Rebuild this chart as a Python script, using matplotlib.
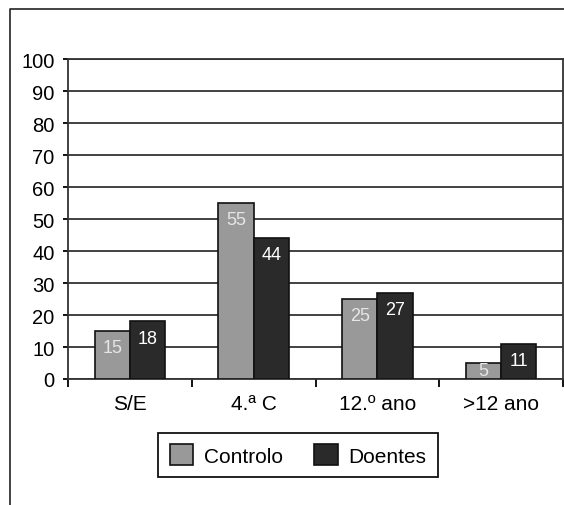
import matplotlib.pyplot as plt
import numpy as np
from matplotlib.lines import Line2D

plt.rcParams['font.family'] = ['Liberation Sans', 'DejaVu Sans']

# Dados
categorias = ["S/E", "4.ª C", "12.º ano", ">12 ano"]
controlo = [15, 55, 25, 5]
doentes = [18, 44, 27, 11]
y_ticks = [0, 10, 20, 30, 40, 50, 60, 70, 80, 90, 100]

fig = plt.figure(figsize=(5.64, 5.06), dpi=100)
ax = fig.add_axes([68 / 564, 126 / 506, 495 / 564, 320 / 506])

x = np.arange(len(categorias))
w = 0.285
b1 = ax.bar(x - w / 2, controlo, w, color="#999999", edgecolor="#111111",
            linewidth=1.2, label="Controlo", zorder=3)
b2 = ax.bar(x + w / 2, doentes, w, color="#2a2a2a", edgecolor="#111111",
            linewidth=1.2, label="Doentes", zorder=3)

# rótulos dentro das barras, junto ao topo
for bars, vals, cor in [(b1, controlo, "#e6e6e6"), (b2, doentes, "white")]:
    for r, v in zip(bars, vals):
        yc = max(v - 5.2, v / 2)
        ax.text(r.get_x() + r.get_width() / 2, yc, str(v),
                ha="center", va="center", fontsize=13, color=cor, zorder=4)

ax.set_ylim(0, 100)
ax.set_yticks(y_ticks)
ax.set_xlim(-0.5, len(categorias) - 0.5)
ax.set_xticks(np.arange(len(categorias) + 1) - 0.5, minor=False)
ax.set_xticklabels([])
ax.set_xticks(x, minor=True)
ax.set_xticklabels(categorias, minor=True)
ax.tick_params(axis="x", which="major", length=5.5, width=1.3, direction="out")
ax.tick_params(axis="x", which="minor", length=0, pad=11, labelsize=15)
ax.tick_params(axis="y", length=3.6, width=1.3, direction="out",
               labelsize=14.5, pad=6)
ax.yaxis.grid(True, color="#333333", linewidth=1.3, zorder=0)
for s in ax.spines.values():
    s.set_color("#333333")
    s.set_linewidth(1.3)

leg = ax.legend(loc="center", bbox_to_anchor=(298 / 564, 50 / 506),
                bbox_transform=fig.transFigure, ncol=2, fontsize=15,
                handlelength=1.15, handleheight=1.15, handletextpad=0.5,
                columnspacing=1.5, borderpad=0.55, fancybox=False,
                framealpha=1)
leg.get_frame().set_edgecolor("#111111")
leg.get_frame().set_linewidth(1.3)

# moldura exterior
fig.add_artist(Line2D([10 / 564, 10 / 564, 1.0], [0.0, 1 - 10 / 506, 1 - 10 / 506],
                      transform=fig.transFigure, color="#222222", linewidth=1.2))

fig.savefig("out.png", dpi=100)
